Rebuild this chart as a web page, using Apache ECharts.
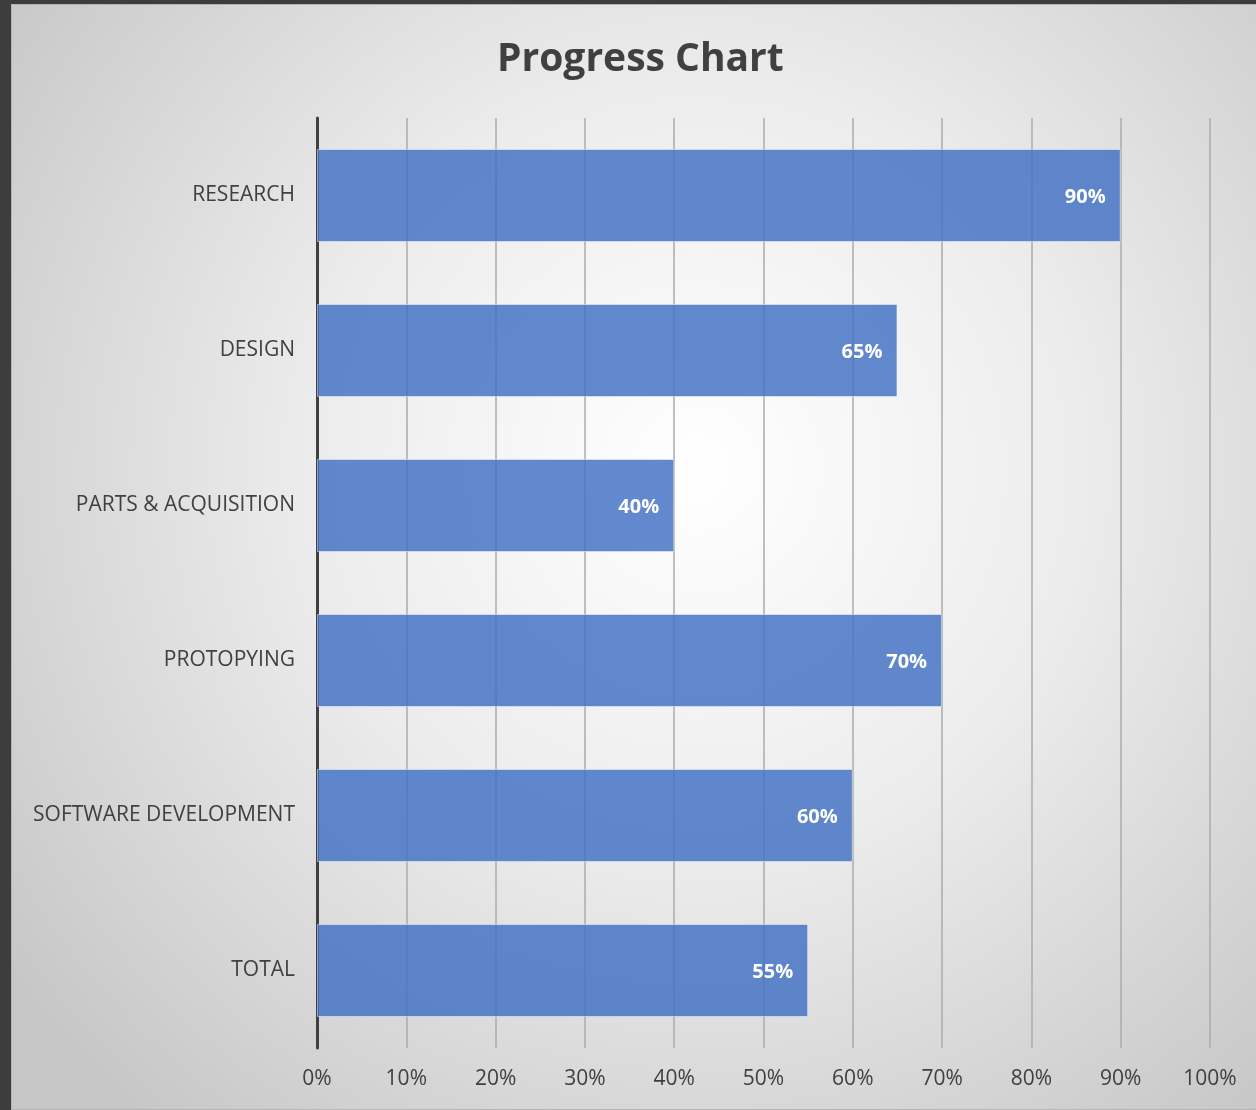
<!DOCTYPE html>
<html>
<head>
<meta charset="utf-8">
<script src="https://cdn.jsdelivr.net/npm/echarts@6/dist/echarts.min.js"></script>
<style>
html,body{margin:0;padding:0;background:#3d3d3d;width:1256px;height:1110px;overflow:hidden;}
#frame{position:absolute;left:11px;top:4px;width:1245px;height:1106px;background:#b4b4b4;}
#chart{position:absolute;left:12px;top:5px;width:1244px;height:1104px;}
</style>
</head>
<body>
<div id="frame"></div>
<div id="chart"></div>
<script>
const titleText = 'Progress Chart';
const categories = ['RESEARCH', 'DESIGN', 'PARTS & ACQUISITION', 'PROTOPYING', 'SOFTWARE DEVELOPMENT', 'TOTAL'];
const progressValues = [90, 65, 40, 70, 60, 55];
const tickValues = [0, 10, 20, 30, 40, 50, 60, 70, 80, 90, 100];

const chart = echarts.init(document.getElementById('chart'), null, {renderer: 'canvas'});
chart.setOption({
  backgroundColor: {
    type: 'radial', x: 0.55, y: 0.42, r: 0.78,
    colorStops: [
      {offset: 0, color: '#ffffff'},
      {offset: 0.45, color: '#ececec'},
      {offset: 1, color: '#c6c6c6'}
    ]
  },
  animation: false,
  title: {
    text: titleText,
    left: 480, top: 30,
    textStyle: {fontFamily: 'Open Sans', fontWeight: 'bold', fontSize: 39, color: '#404040'}
  },
  grid: {left: 305, right: 46, top: 113, bottom: 61, containLabel: false},
  xAxis: {
    type: 'value', min: 0, max: 100, interval: 10,
    axisLine: {show: false},
    axisTick: {show: false},
    splitLine: {show: true, lineStyle: {color: '#ababab', width: 1.5}},
    axisLabel: {
      margin: 21,
      fontFamily: 'Open Sans', fontSize: 21, color: '#404040',
      formatter: v => tickValues.includes(v) ? v + '%' : ''
    }
  },
  yAxis: {
    type: 'category', data: categories, inverse: true,
    axisLine: {show: true, lineStyle: {color: '#404040', width: 3}},
    axisTick: {show: false},
    axisLabel: {margin: 22, fontFamily: 'Open Sans', fontSize: 21, color: '#404040'}
  },
  series: [{
    type: 'bar', data: progressValues,
    barCategoryGap: '40%',
    itemStyle: {color: 'rgba(68,114,196,0.84)', borderColor: 'rgba(255,255,255,0.45)', borderWidth: 1},
    label: {
      show: true, position: 'insideRight', distance: 15, offset: [0, 2],
      formatter: p => p.value + '%',
      fontFamily: 'Open Sans', fontWeight: 'bold', fontSize: 20, color: '#ffffff'
    }
  }]
});
</script>
</body>
</html>
